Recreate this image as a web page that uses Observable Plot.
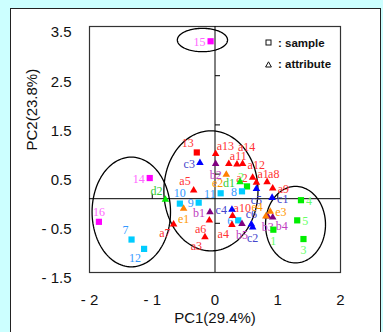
<!DOCTYPE html>
<html><head><meta charset="utf-8">
<script src="https://cdn.jsdelivr.net/npm/d3@7"></script>
<script src="https://cdn.jsdelivr.net/npm/@observablehq/plot@0.6"></script>
<style>
html,body{margin:0;padding:0;background:#ccffff;width:383px;height:332px;overflow:hidden;}
#panel{position:absolute;left:10px;top:8px;width:371px;height:340px;background:#fff;border:1.5px solid #222;box-sizing:border-box;}
#chart{position:absolute;left:0;top:0;}
.lg{position:absolute;left:265px;height:14px;display:flex;align-items:center;font:bold 11.5px "Liberation Sans",Arial,sans-serif;color:#111;white-space:nowrap;}
.lg svg{margin-right:6px;}
</style></head><body>
<div id="panel"></div>
<div id="chart"></div>
<script>
// ---- samples (squares)
const sampleNames = ["1","2","3","4","5","6","7","8","9","10","11","12","13","14","15","16"];
const sampleX = [0.93,0.51,1.41,1.37,1.31,0.37,-1.33,0.43,-0.26,-0.56,0.09,-1.13,-0.29,-1.04,-0.07,-1.85];
const sampleY = [-0.63,0.25,-0.82,-0.03,-0.44,-0.44,-0.83,0.15,-0.08,-0.10,0.11,-1.02,0.94,0.42,3.20,-0.47];
const sampleGroup = ["g","g","g","g","g","b","b","b","b","b","b","b","r","m","m","m"];
const sampleLabelSide = ["s","nw","s","e","e","w","nw","w","w","n","w","sw","nw","w","w","n"];

// ---- attributes (triangles)
const attrNames = ["a1","a2","a3","a4","a5","a6","a7","a8","a9","a10","a11","a12","a13","a14",
  "b1","b2","b3","b4","b5","c1","c2","c3","c4","c5","c6","d1","d2","e1","e2","e3","e4"];
const attrX = [0.66,0.60,-0.16,0.27,-0.34,-0.09,-0.66,0.83,0.92,0.28,0.22,0.44,0.01,0.35,
  -0.08,0.01,0.84,0.92,0.43, 0.91,0.60,-0.24,0.27,0.66,0.58, 0.40,-0.79, -0.50,0.18,0.88,0.81];
const attrY = [0.33,0.43,-0.78,-0.53,0.17,-0.44,-0.52,0.34,0.21,-0.35,0.71,0.71,0.91,0.70,
  -0.27,0.71,-0.36,-0.38,-0.51, 0.02,-0.58,0.73,-0.22,0.20,-0.52, 0.34,-0.02, -0.20,0.49,-0.26,-0.36];
const attrLabelSide = ["ne","w","sw","sw","nw","sw","sw","ne","e","ne","ne","e","ne","NE",
  "w","s","s","se","s", "e","s","w","w","s","n", "w","nw", "s","sw","e","nw"];

// ---- group ellipses
const ellipseCx = [-0.20,-0.065,-1.334,1.283];
const ellipseCy = [3.225,0.16,-0.27,-0.527];
const ellipseRx = [0.40,0.75,0.625,0.478];
const ellipseRy = [0.237,1.22,1.115,0.777];

// ---- axes
const xTicks = [-2,-1,0,1,2];
const yTicks = [-1.5,-0.5,0.5,1.5,2.5,3.5];
const xTitle = "PC1(29.4%)";
const yTitle = "PC2(23.8%)";
const legendLabels = [": sample", ": attribute"];

// styles
const markColor = {g:"#00ee00", b:"#00ccff", r:"#ff0000", m:"#ff00ff",
  a:"#ff0000", bb:"#800080", c:"#0000ff", d:"#00ee00", e:"#ff8000"};
const labelColor = {g:"#66ff66", b:"#3399ff", r:"#ff3333", m:"#ff66ff",
  a:"#ff3333", bb:"#c040c0", c:"#4444cc", d:"#33cc33", e:"#ff9900"};
const sideStyle = {
  e:{textAnchor:"start",dx:5,dy:1}, w:{textAnchor:"end",dx:-5,dy:1},
  n:{textAnchor:"middle",dx:0,dy:-10}, s:{textAnchor:"middle",dx:0,dy:11},
  ne:{textAnchor:"start",dx:1,dy:-8}, NE:{textAnchor:"start",dx:1,dy:-17},
  nw:{textAnchor:"end",dx:-3,dy:-9}, se:{textAnchor:"start",dx:3,dy:9}, sw:{textAnchor:"end",dx:-3,dy:9}
};

const samples = sampleNames.map((n,i)=>({name:n,x:sampleX[i],y:sampleY[i],grp:sampleGroup[i],side:sampleLabelSide[i]}));
const attrs = attrNames.map((n,i)=>{const L=n[0]; return {name:n,x:attrX[i],y:attrY[i],grp:L==="b"?"bb":L,side:attrLabelSide[i]};});
const allPts = samples.concat(attrs);

const ellPts = [];
ellipseCx.forEach((cx,k)=>{
  for (let a=0;a<=360;a+=3){const t=a*Math.PI/180; ellPts.push({k,x:cx+ellipseRx[k]*Math.cos(t),y:ellipseCy[k]+ellipseRy[k]*Math.sin(t)});}
});

const fmt = d => d<0 ? "- " + Math.abs(d) : String(d);
const tickRight = {draw(ctx){ctx.moveTo(0,0);ctx.lineTo(5,0);}};
const tickUp = {draw(ctx){ctx.moveTo(0,0);ctx.lineTo(0,-5);}};
const yTickPts = yTicks.filter(v=>v>-1.5&&v<3.5).map(v=>({x:0,y:v}));
const xTickPts = xTicks.filter(v=>v>-2&&v<2&&v!==0).map(v=>({x:v,y:0}));

const labelMarks = Object.keys(sideStyle).map(s=>Plot.text(allPts.filter(d=>d.side===s),{
  x:"x",y:"y",text:"name",fill:d=>labelColor[d.grp],
  fontFamily:"'Liberation Serif','Times New Roman',serif",fontSize:12,
  textAnchor:sideStyle[s].textAnchor,dx:sideStyle[s].dx,dy:sideStyle[s].dy
}));

const chart = Plot.plot({
  width:383, height:332,
  marginLeft:89, marginRight:43, marginTop:26, marginBottom:60,
  style:{background:"transparent",fontFamily:"'Liberation Sans',Arial,sans-serif",fontSize:"15px",color:"#111"},
  x:{domain:[-2,2],label:null},
  y:{domain:[-1.5,3.5],label:null},
  marks:[
    Plot.frame({stroke:"#333",strokeWidth:1.2}),
    Plot.ruleX([0],{stroke:"#000",strokeWidth:1}),
    Plot.ruleY([0],{stroke:"#000",strokeWidth:1}),
    Plot.dot(yTickPts,{x:"x",y:"y",symbol:tickRight,stroke:"#000",fill:"none",strokeWidth:1}),
    Plot.dot(xTickPts,{x:"x",y:"y",symbol:tickUp,stroke:"#000",fill:"none",strokeWidth:1}),
    Plot.axisY(yTicks,{tickSize:0,tickPadding:18,dy:6,tickFormat:fmt,fontSize:15,fill:"#111",label:null}),
    Plot.axisX(xTicks,{tickSize:0,tickPadding:22,tickFormat:fmt,fontSize:15,fill:"#111",label:null}),
    Plot.text([xTitle],{frameAnchor:"bottom",dy:50,text:d=>d,fontSize:15,fill:"#111"}),
    Plot.text([yTitle],{frameAnchor:"left",dx:-57,dy:1,rotate:-90,text:d=>d,fontSize:15,fill:"#111"}),
    Plot.line(ellPts,{x:"x",y:"y",z:"k",stroke:"#000",strokeWidth:1.3,curve:"linear"}),
    ...labelMarks,
    Plot.dot(samples,{x:"x",y:"y",symbol:"square",r:3.5,fill:d=>markColor[d.grp],stroke:"none"}),
    Plot.dot(attrs,{x:"x",y:"y",symbol:"triangle",r:2.8,fill:d=>markColor[d.grp],stroke:"none"})
  ]
});
document.getElementById("chart").appendChild(chart);

// legend
const icons = [
  '<svg width="7" height="7"><rect x="1" y="1" width="5" height="5" fill="none" stroke="#111" stroke-width="1"/></svg>',
  '<svg width="7" height="7"><path d="M3.5,0.8L6.4,6L0.6,6Z" fill="none" stroke="#111" stroke-width="1"/></svg>'
];
const tops = [35.7, 57.3];
legendLabels.forEach((t,i)=>{
  const d=document.createElement("div"); d.className="lg"; d.style.top=tops[i]+"px";
  d.innerHTML=icons[i]+"<span>"+t+"</span>"; document.body.appendChild(d);
});
</script>
</body></html>
